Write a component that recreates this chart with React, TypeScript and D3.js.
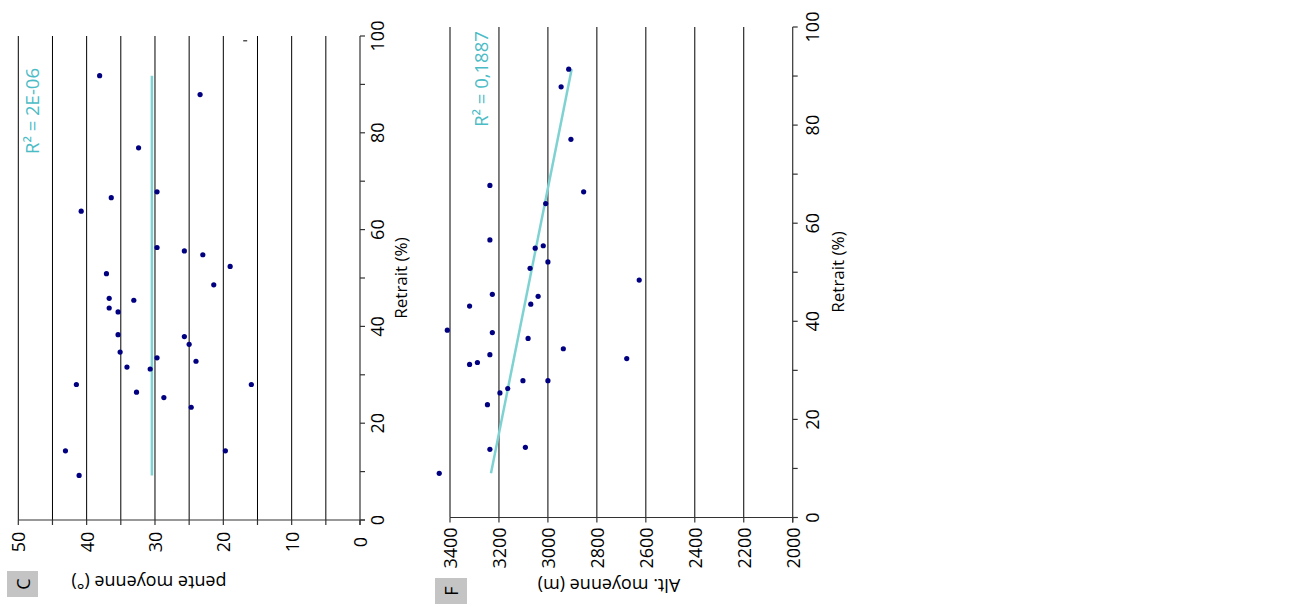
import React from "react";
import * as d3 from "d3";

// ---- Data ----
const retraitC = [91.8, 87.9, 76.9, 67.8, 66.6, 63.8, 56.3, 55.6, 54.8, 52.4, 50.9, 48.6, 45.8, 45.4, 43.8, 43.0, 38.3, 37.9, 36.3, 34.7, 33.5, 32.8, 31.6, 31.2, 28.0, 28.0, 26.4, 25.3, 23.3, 14.3, 14.3, 9.2];
const penteC = [38.1, 23.4, 32.4, 29.7, 36.4, 40.8, 29.7, 25.7, 23.0, 19.0, 37.1, 21.4, 36.7, 33.1, 36.7, 35.4, 35.4, 25.7, 25.0, 35.1, 29.7, 24.0, 34.1, 30.7, 41.5, 15.9, 32.7, 28.7, 24.7, 43.1, 19.7, 41.1];
const strayC = [{ retrait: 99.0, pente: 16.8 }];
const trendC = { intercept: 30.45, slope: 0 };
const r2C = "R² = 2E-06";

const retraitF = [91.4, 87.8, 77.1, 67.7, 66.4, 64.0, 56.6, 55.4, 54.9, 52.1, 50.8, 48.4, 45.5, 45.1, 43.1, 43.5, 38.2, 37.7, 36.5, 34.4, 32.4, 33.2, 31.2, 31.6, 27.9, 27.9, 26.3, 25.4, 23.0, 14.3, 13.9, 9.0];
const altF = [2915, 2946, 2906, 3237, 2854, 3009, 3237, 3019, 3052, 3000, 3073, 2627, 3227, 3040, 3320, 3070, 3411, 3227, 3081, 2937, 2678, 3237, 3320, 3288, 3102, 3000, 3164, 3196, 3247, 3092, 3237, 3444];
const trendF = { intercept: 3268.6, slope: -4.0 };
const r2F = "R² = 0,1887";

const retraitTicks = [0, 10, 20, 30, 40, 50, 60, 70, 80, 90, 100];
const retraitLabels = [0, 20, 40, 60, 80, 100];
const penteTicks = [0, 5, 10, 15, 20, 25, 30, 35, 40, 45, 50];
const penteLabels = [0, 10, 20, 30, 40, 50];
const altTicks = [2000, 2200, 2400, 2600, 2800, 3000, 3200, 3400];

const FONT = "'Open Sans', 'DejaVu Sans', sans-serif";
const DOT = "#000080";
const TREND = "#7fd2d2";
const R2COL = "#4bbcc6";

function rot(x: number, y: number, a: number) {
  return `translate(${x},${y}) rotate(${a})`;
}

function Panel(props: {
  yR: d3.ScaleLinear<number, number>;
  xV: d3.ScaleLinear<number, number>;
  vTicks: number[];
  vLabels: number[];
  vGrid: number[];
  retrait: number[];
  values: number[];
  trend: { intercept: number; slope: number };
  r2: string;
  r2Pos: [number, number];
  vLabelY: number;
  rLabelX: number;
  rTitle: [number, number];
  vTitle: string;
  vTitlePos: [number, number];
  letter: string;
  box: [number, number, number, number];
}) {
  const { yR, xV } = props;
  const [r0, r1] = yR.domain();
  const vDom = xV.domain();
  const axisY = yR(0);
  const axisX = xV(Math.min(vDom[0], vDom[1]));
  const xMin = Math.min(xV.range()[0], xV.range()[1]);
  const rMin = d3.min(props.retrait) as number;
  const rMax = d3.max(props.retrait) as number;
  const tv = (r: number) => props.trend.intercept + props.trend.slope * r;
  return (
    <g>
      {props.vGrid.map((v) => (
        <line key={"g" + v} x1={xV(v)} x2={xV(v)} y1={yR(r1)} y2={yR(r0)} stroke="#000" strokeWidth={1} />
      ))}
      <line x1={xMin} x2={axisX + 5} y1={axisY} y2={axisY} stroke="#333" strokeWidth={1.2} />
      {props.vTicks.map((v) => (
        <line key={"vt" + v} x1={xV(v)} x2={xV(v)} y1={axisY} y2={axisY + 5} stroke="#333" strokeWidth={1.2} />
      ))}
      {props.vLabels.map((v) => (
        <text key={"vl" + v} transform={rot(xV(v), props.vLabelY, -90)} textAnchor="middle" dominantBaseline="central" fontSize={18} fontFamily={FONT} fill="#000">
          {v}
        </text>
      ))}
      <line x1={axisX} x2={axisX} y1={yR(r1)} y2={axisY + 5} stroke="#333" strokeWidth={1.2} />
      {retraitTicks.map((r) => (
        <line key={"rt" + r} x1={axisX} x2={axisX + 5} y1={yR(r)} y2={yR(r)} stroke="#333" strokeWidth={1.2} />
      ))}
      {retraitLabels.map((r) => (
        <text key={"rl" + r} transform={rot(props.rLabelX, yR(r), -90)} textAnchor="middle" dominantBaseline="central" fontSize={18} fontFamily={FONT} fill="#000">
          {r}
        </text>
      ))}
      <text transform={rot(props.rTitle[0], props.rTitle[1], -90)} textAnchor="middle" dominantBaseline="central" fontSize={17} fontFamily={FONT} fill="#000">
        Retrait (%)
      </text>
      <text transform={rot(props.vTitlePos[0], props.vTitlePos[1], 180)} textAnchor="middle" dominantBaseline="central" fontSize={18} fontFamily={FONT} fill="#000">
        {props.vTitle}
      </text>
      <line x1={xV(tv(rMin))} x2={xV(tv(rMax))} y1={yR(rMin)} y2={yR(rMax)} stroke={TREND} strokeWidth={2.5} />
      {props.retrait.map((r, i) => (
        <circle key={"p" + i} cx={xV(props.values[i])} cy={yR(r)} r={2.6} fill={DOT} />
      ))}
      <text transform={rot(props.r2Pos[0], props.r2Pos[1], -90)} textAnchor="middle" dominantBaseline="central" fontSize={18.5} fontFamily={FONT} fill={R2COL}>
        {props.r2}
      </text>
      <rect x={props.box[0]} y={props.box[1]} width={props.box[2]} height={props.box[3]} fill="#c4c4c4" />
      <text transform={rot(props.box[0] + props.box[2] / 2, props.box[1] + props.box[3] / 2, -90)} textAnchor="middle" dominantBaseline="central" fontSize={18} fontFamily={FONT} fill="#000">
        {props.letter}
      </text>
    </g>
  );
}

export default function App() {
  const yRC = d3.scaleLinear().domain([0, 100]).range([520, 36]);
  const xPC = d3.scaleLinear().domain([0, 50]).range([360, 18.3]);
  const yRF = d3.scaleLinear().domain([0, 100]).range([517.5, 27]);
  const xAF = d3.scaleLinear().domain([2000, 3400]).range([792.7, 450]);

  return (
    <svg width={1297} height={607} style={{ position: "absolute", left: 0, top: 0, background: "#fff" }}>
      <Panel
        yR={yRC}
        xV={xPC}
        vTicks={penteTicks}
        vLabels={penteLabels}
        vGrid={penteTicks.filter((v) => v > 0)}
        retrait={retraitC}
        values={penteC}
        trend={trendC}
        r2={r2C}
        r2Pos={[31, 111]}
        vLabelY={542}
        rLabelX={377}
        rTitle={[400, 278]}
        vTitle="pente moyenne (°)"
        vTitlePos={[149, 583]}
        letter="C"
        box={[7, 571, 31, 26]}
      />
      {strayC.map((s, i) => (
        <line key={"s" + i} x1={xPC(s.pente) - 2} x2={xPC(s.pente) + 2} y1={yRC(s.retrait)} y2={yRC(s.retrait)} stroke="#000" strokeWidth={1} />
      ))}
      <Panel
        yR={yRF}
        xV={xAF}
        vTicks={altTicks}
        vLabels={altTicks}
        vGrid={altTicks.filter((v) => v > 2000)}
        retrait={retraitF}
        values={altF}
        trend={trendF}
        r2={r2F}
        r2Pos={[480, 79]}
        vLabelY={548}
        rLabelX={812}
        rTitle={[837, 272]}
        vTitle="Alt. moyenne (m)"
        vTitlePos={[609, 586]}
        letter="F"
        box={[435, 578, 32, 26]}
      />
    </svg>
  );
}
